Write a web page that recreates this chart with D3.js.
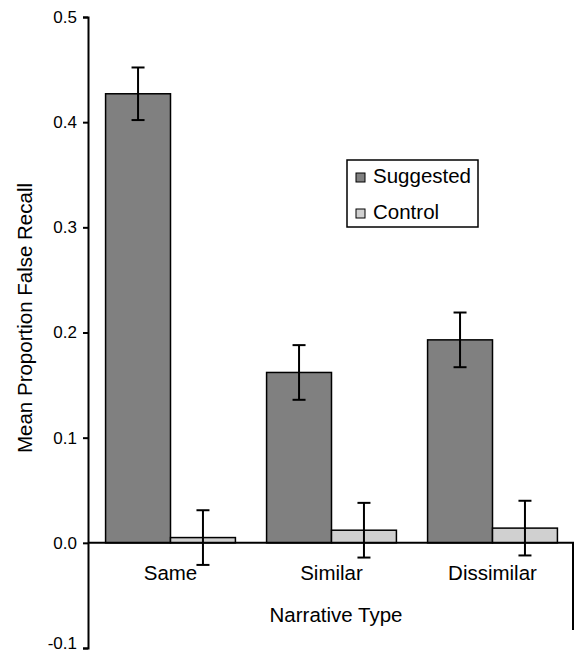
<!DOCTYPE html>
<html>
<head>
<meta charset="utf-8">
<script src="https://cdn.jsdelivr.net/npm/d3@7"></script>
<style>
  body { margin: 0; background: #fff; }
  svg { display: block; font-family: "Liberation Sans", Arial, sans-serif; }
</style>
</head>
<body>
<svg id="chart" width="576" height="653"></svg>
<script>
const categories = ["Same", "Similar", "Dissimilar"];
const seriesNames = ["Suggested", "Control"];
const suggested = [0.427, 0.162, 0.193];
const control = [0.005, 0.012, 0.014];
const suggestedErr = [0.025, 0.026, 0.026];
const controlErr = [0.026, 0.026, 0.026];
const yTicks = [-0.1, 0.0, 0.1, 0.2, 0.3, 0.4, 0.5];
const colors = ["#808080", "#d0d0d0"];

const svg = d3.select("#chart");
const labelSize = 20.5;

const x = d3.scaleBand().domain(categories).range([90, 573]);
const xInner = d3.scaleBand().domain(seriesNames)
  .range([0, x.bandwidth()]).paddingOuter(0.24);
const y = d3.scaleLinear().domain([-0.1, 0.5]).range([648, 17]);

// y axis (plain hyphen for the minus, like the original)
const yAxis = svg.append("g")
  .attr("transform", "translate(88,0)")
  .call(d3.axisLeft(y).tickValues(yTicks)
    .tickFormat(d => d3.format(".1f")(d).replace("\u2212", "-"))
    .tickSizeOuter(0).tickSize(5));
yAxis.select(".domain").attr("stroke", "#000").attr("stroke-width", 2);
yAxis.selectAll(".tick line").attr("stroke", "#000").attr("stroke-width", 2);
yAxis.selectAll(".tick text")
  .attr("font-size", 17).attr("fill", "#000").attr("x", -11)
  .attr("font-family", "Liberation Sans, Arial, sans-serif")
  .attr("y", d => d < 0 ? -5 : 0); // keep the bottom label inside the frame

// bars
const rows = categories.map((c, i) => ({
  cat: c,
  vals: [
    { s: seriesNames[0], v: suggested[i], e: suggestedErr[i] },
    { s: seriesNames[1], v: control[i], e: controlErr[i] }
  ]
}));

const groups = svg.selectAll(".grp").data(rows).enter()
  .append("g")
  .attr("class", "grp")
  .attr("transform", d => `translate(${x(d.cat)},0)`);

groups.selectAll("rect").data(d => d.vals).enter()
  .append("rect")
  .attr("x", d => xInner(d.s))
  .attr("width", xInner.bandwidth())
  .attr("y", d => y(d.v))
  .attr("height", d => y(0) - y(d.v))
  .attr("fill", (d, i) => colors[i])
  .attr("stroke", "#000")
  .attr("stroke-width", 1.5);

// x axis line with the right drop
svg.append("path")
  .attr("d", `M88,${y(0)}H${x.range()[1]}V630`)
  .attr("fill", "none")
  .attr("stroke", "#000")
  .attr("stroke-width", 2);

// error bars
const err = groups.selectAll(".err").data(d => d.vals).enter()
  .append("g").attr("class", "err")
  .attr("transform", d => `translate(${xInner(d.s) + xInner.bandwidth() / 2},0)`);
err.append("line")
  .attr("y1", d => y(d.v + d.e)).attr("y2", d => y(d.v - d.e))
  .attr("stroke", "#000").attr("stroke-width", 2);
err.selectAll(".cap").data(d => [d.v + d.e, d.v - d.e]).enter()
  .append("line")
  .attr("x1", -6.5).attr("x2", 6.5)
  .attr("y1", d => y(d)).attr("y2", d => y(d))
  .attr("stroke", "#000").attr("stroke-width", 2);

// category labels
svg.selectAll(".cat").data(categories).enter()
  .append("text")
  .attr("x", d => x(d) + x.bandwidth() / 2)
  .attr("y", 580)
  .attr("text-anchor", "middle")
  .attr("font-size", labelSize)
  .text(d => d);

svg.append("text")
  .attr("x", 336)
  .attr("y", 622)
  .attr("text-anchor", "middle")
  .attr("font-size", labelSize)
  .text("Narrative Type");

svg.append("text")
  .attr("transform", "translate(32,318) rotate(-90)")
  .attr("text-anchor", "middle")
  .attr("font-size", labelSize)
  .text("Mean Proportion False Recall");

// legend
const legend = svg.append("g").attr("transform", "translate(347,160)");
legend.append("rect")
  .attr("width", 131).attr("height", 67)
  .attr("fill", "#fff").attr("stroke", "#000").attr("stroke-width", 1.5);
const li = legend.selectAll(".li").data(seriesNames).enter()
  .append("g").attr("transform", (d, i) => `translate(9,${13 + i * 36})`);
li.append("rect")
  .attr("width", 9).attr("height", 9)
  .attr("fill", (d, i) => colors[i])
  .attr("stroke", "#000").attr("stroke-width", 1);
li.append("text")
  .attr("x", 17).attr("y", 9.5)
  .attr("font-size", labelSize)
  .text(d => d);
</script>
</body>
</html>
